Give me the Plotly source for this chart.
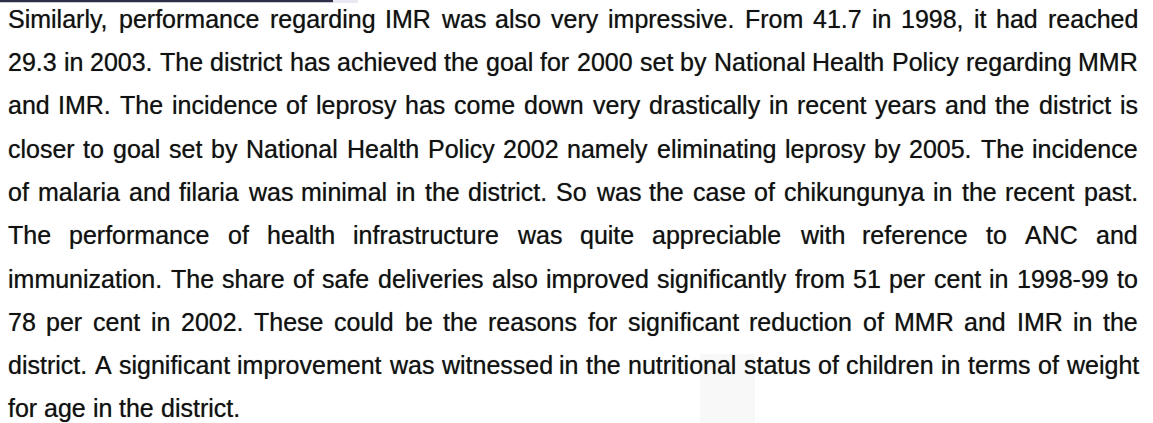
import plotly.graph_objects as go

# Paragraph lines (as laid out in the reference); last line is not justified
lines = [
    "Similarly, performance regarding IMR was also very impressive. From 41.7 in 1998, it had reached",
    "29.3 in 2003. The district has achieved the goal for 2000 set by National Health Policy regarding MMR",
    "and IMR. The incidence of leprosy has come down very drastically in recent years and the district is",
    "closer to goal set by National Health Policy 2002 namely eliminating leprosy by 2005. The incidence",
    "of malaria and filaria was minimal in the district. So was the case of chikungunya in the recent past.",
    "The performance of health infrastructure was quite appreciable with reference to ANC and",
    "immunization. The share of safe deliveries also improved significantly from 51 per cent in 1998-99 to",
    "78 per cent in 2002. These could be the reasons for significant reduction of MMR and IMR in the",
    "district. A significant improvement was witnessed in the nutritional status of children in terms of weight",
    "for age in the district.",
]

W, H = 1153, 423
FONT_SIZE = 25
LEFT, RIGHT = 7, 1137
BASE0, LINE_STEP = 27.5, 43.3

# Helvetica/Arial advance widths (1/1000 em)
AFM = {
    ' ': 278, ',': 278, '-': 333, '.': 278, '(': 333, ')': 333, ':': 278, ';': 278,
    '0': 556, '1': 556, '2': 556, '3': 556, '4': 556, '5': 556, '6': 556, '7': 556, '8': 556, '9': 556,
    'A': 667, 'B': 667, 'C': 722, 'D': 722, 'E': 667, 'F': 611, 'G': 778, 'H': 722, 'I': 278,
    'J': 500, 'K': 667, 'L': 556, 'M': 833, 'N': 722, 'O': 778, 'P': 667, 'Q': 778, 'R': 722,
    'S': 667, 'T': 611, 'U': 722, 'V': 667, 'W': 944, 'X': 667, 'Y': 667, 'Z': 611,
    'a': 556, 'b': 556, 'c': 500, 'd': 556, 'e': 556, 'f': 278, 'g': 556, 'h': 556, 'i': 222,
    'j': 222, 'k': 500, 'l': 222, 'm': 833, 'n': 556, 'o': 556, 'p': 556, 'q': 556, 'r': 333,
    's': 500, 't': 278, 'u': 556, 'v': 500, 'w': 722, 'x': 500, 'y': 500, 'z': 500,
}


def text_width(s):
    return sum(AFM.get(c, 556) for c in s) * FONT_SIZE / 1000.0


annotations = []
for i, line in enumerate(lines):
    words = line.split(" ")
    baseline = BASE0 + i * LINE_STEP
    yc = baseline - 0.35 * FONT_SIZE
    widths = [text_width(w) for w in words]
    if i < len(lines) - 1 and len(words) > 1:
        gap = (RIGHT - LEFT - sum(widths)) / (len(words) - 1)
    else:
        gap = text_width(" ")
    x = LEFT
    for w, wd in zip(words, widths):
        annotations.append(dict(
            x=x, y=yc, xref="x", yref="y", text=w, showarrow=False,
            xanchor="left", yanchor="middle", borderpad=0,
            font=dict(family="Liberation Sans, Arial, Helvetica, sans-serif",
                      size=FONT_SIZE, color="#111111",
                      shadow="0px 0px 0.8px rgba(0,0,0,0.55)"),
        ))
        x += wd + gap

fig = go.Figure()
fig.add_trace(go.Scatter(x=[0, W], y=[0, H], mode="markers",
                         marker=dict(opacity=0), hoverinfo="skip", showlegend=False))

shapes = [
    dict(type="rect", xref="x", yref="y", x0=0, x1=333, y0=0, y1=2.2,
         fillcolor="#2e2d48", line=dict(width=0), layer="below"),
    dict(type="rect", xref="x", yref="y", x0=333, x1=358, y0=0, y1=3,
         fillcolor="#e9e7f2", line=dict(width=0), layer="below"),
    dict(type="rect", xref="x", yref="y", x0=700, x1=755, y0=354, y1=H,
         fillcolor="#f8f8f8", line=dict(width=0), layer="below"),
]

fig.update_layout(
    width=W, height=H,
    margin=dict(l=0, r=0, t=0, b=0),
    paper_bgcolor="white", plot_bgcolor="white",
    xaxis=dict(range=[0, W], visible=False, fixedrange=True),
    yaxis=dict(range=[H, 0], visible=False, fixedrange=True),
    annotations=annotations,
    shapes=shapes,
    showlegend=False,
)

fig.write_html(
    "out.html",
    config={"displayModeBar": False},
    post_script="document.body.style.margin='0';document.body.style.padding='0';"
                "document.body.style.overflow='hidden';",
)
